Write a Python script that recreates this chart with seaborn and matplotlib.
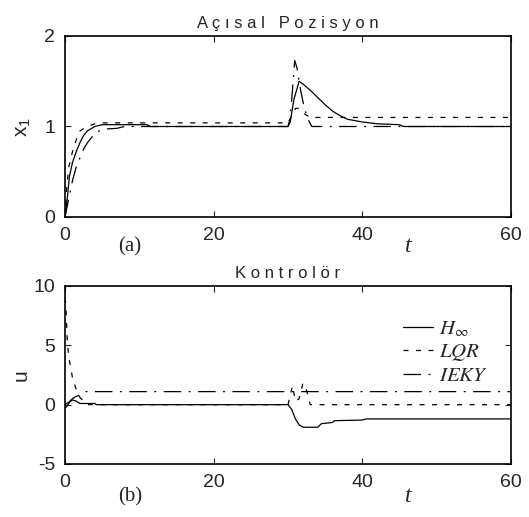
import matplotlib
matplotlib.use('Agg')
import numpy as np
import pandas as pd
import matplotlib.pyplot as plt
import seaborn as sns

# Açısal pozisyon (x1) - üst grafik
t_hinf_a = [0, 0.3, 0.6, 1, 1.5, 2, 2.5, 3, 4, 5, 11, 11.5, 30, 30.3, 30.8, 31.5, 32, 33, 34, 35, 36, 37, 38, 40, 42, 45, 45.5, 60]
x_hinf_a = [0, 0.2, 0.45, 0.6, 0.72, 0.82, 0.9, 0.95, 1.0, 1.02, 1.02, 1.0, 1.0, 1.05, 1.3, 1.5, 1.47, 1.4, 1.32, 1.24, 1.17, 1.12, 1.08, 1.05, 1.03, 1.02, 1.0, 1.0]
t_lqr_a = [0, 0.2, 0.5, 1, 1.5, 2, 3, 4, 5, 30, 30.4, 31, 31.5, 32, 33, 60]
x_lqr_a = [0, 0.3, 0.55, 0.72, 0.85, 0.95, 1.0, 1.03, 1.04, 1.04, 1.1, 1.2, 1.2, 1.15, 1.1, 1.1]
t_ieky_a = [0, 0.5, 1, 1.5, 2, 2.5, 3, 4, 5, 7, 8, 30, 30.3, 30.6, 30.9, 31.2, 31.7, 32.2, 32.7, 33.2, 60]
x_ieky_a = [0, 0.2, 0.4, 0.55, 0.65, 0.75, 0.82, 0.92, 0.97, 0.98, 1.0, 1.0, 1.1, 1.4, 1.73, 1.65, 1.4, 1.2, 1.08, 1.0, 1.0]

# Kontrolör (u) - alt grafik
t_hinf_b = [0, 0.3, 0.6, 1, 1.5, 2, 2.5, 4, 4.2, 30, 30.5, 31, 31.5, 32, 34, 34.5, 36, 36.2, 40, 40.5, 60]
u_hinf_b = [-0.3, -0.1, 0.2, 0.4, 0.3, 0.1, 0.1, 0.1, 0.0, 0.0, -0.4, -1.2, -1.7, -1.9, -1.9, -1.6, -1.5, -1.35, -1.3, -1.2, -1.2]
t_lqr_b = [0, 0.1, 0.3, 0.5, 0.8, 1, 1.5, 2, 3, 30, 30.3, 30.6, 31, 31.5, 32, 32.5, 33, 60]
u_lqr_b = [9.0, 8.5, 5.5, 4.0, 3.0, 2.3, 1.3, 0.6, 0.0, 0.0, 0.8, 1.6, 0.3, 0.5, 1.8, 1.2, 0.0, 0.0]
t_ieky_b = [0, 0.5, 1, 1.5, 2, 2.5, 60]
u_ieky_b = [0.0, 0.2, 0.5, 0.7, 0.8, 1.1, 1.1]

labels = [r'$H_\infty$', r'$LQR$', r'$IEKY$']

sns.set_style('ticks')
plt.rcParams['font.family'] = ['Liberation Sans', 'DejaVu Sans']
plt.rcParams['mathtext.fontset'] = 'stix'
plt.rcParams['axes.unicode_minus'] = False

fig = plt.figure(figsize=(5.29, 5.17), dpi=100)
ax1 = fig.add_axes([65 / 529, 1 - 217 / 517, 446 / 529, 181 / 517])
ax2 = fig.add_axes([65 / 529, 1 - 464 / 517, 446 / 529, 178 / 517])

stiller = ['-', (0, (4, 6)), (0, (14, 6, 1.5, 6))]

seriler_a = [(t_hinf_a, x_hinf_a), (t_lqr_a, x_lqr_a), (t_ieky_a, x_ieky_a)]
seriler_b = [(t_hinf_b, u_hinf_b), (t_lqr_b, u_lqr_b), (t_ieky_b, u_ieky_b)]

for (tt, yy), ls, lab in zip(seriler_a, stiller, labels):
    df = pd.DataFrame({'t': tt, 'y': yy})
    sns.lineplot(data=df, x='t', y='y', ax=ax1, color='k', linewidth=0.9, linestyle=ls)
for (tt, yy), ls, lab in zip(seriler_b, stiller, labels):
    df = pd.DataFrame({'t': tt, 'y': yy})
    sns.lineplot(data=df, x='t', y='y', ax=ax2, color='k', linewidth=0.9, linestyle=ls, label=lab)

for ax in (ax1, ax2):
    ax.set_xlim(0, 60)
    ax.set_xticks([0, 20, 40, 60])
    ax.tick_params(direction='in', top=True, right=True, labelsize=14, length=4, width=0.8, pad=7)
    for s in ax.spines.values():
        s.set_linewidth(1.2)
        s.set_color('k')
    ax.set_xlabel('')

ax1.set_ylim(0, 2)
ax1.set_yticks([0, 1, 2])
ax1.set_ylabel(r'$\mathregular{x_1}$', fontsize=15, labelpad=8)
ax1.set_title('A ç ı s a l   P o z i s y o n', fontsize=12, pad=6)

ax2.set_ylim(-5, 10)
ax2.set_yticks([-5, 0, 5, 10])
ax2.set_ylabel('u', fontsize=15, labelpad=2)
ax2.set_title('K o n t r o l ö r', fontsize=12, pad=6)

leg = ax2.legend(loc='upper right', bbox_to_anchor=(0.99, 0.92), frameon=False, fontsize=15,
                 handlelength=1.4, handletextpad=0.3, labelspacing=0.15)

fig.text(130 / 529, 1 - 247 / 517, '(a)', fontsize=15, family='Liberation Serif', ha='center', va='center')
fig.text(408 / 529, 1 - 247 / 517, 't', fontsize=17, family='Liberation Serif', style='italic', ha='center', va='center')
fig.text(130 / 529, 1 - 497 / 517, '(b)', fontsize=15, family='Liberation Serif', ha='center', va='center')
fig.text(408 / 529, 1 - 497 / 517, 't', fontsize=17, family='Liberation Serif', style='italic', ha='center', va='center')

plt.savefig('out.png', dpi=100)
plt.close()
